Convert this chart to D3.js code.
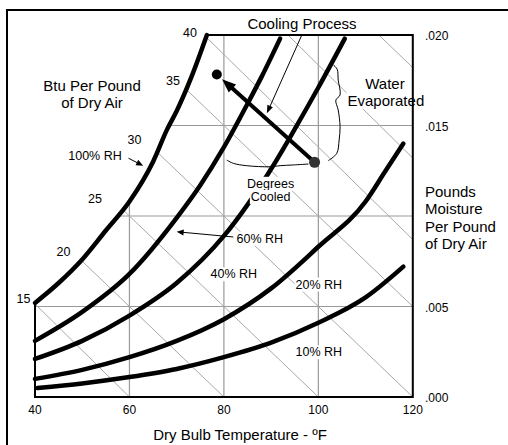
<!DOCTYPE html>
<html><head><meta charset="utf-8">
<script src="https://cdn.jsdelivr.net/npm/d3@7"></script>
<style>
body{margin:0;background:#fff;}
svg text{font-family:"Liberation Sans",Arial,Helvetica,sans-serif;fill:#000;}
</style></head><body>
<svg id="chart" width="508" height="445"></svg>
<script>
// ---------------- data ----------------
const tempTicks = [40, 60, 80, 100, 120];
const tempGrid = [60, 80, 100];
const moistTicks = [0, 0.005, 0.015, 0.020];
const moistTickLabels = [".000", ".005", ".015", ".020"];
const moistGrid = [0.005, 0.010, 0.015];

// relative humidity curves: [dry bulb °F, lb moisture / lb dry air]
const rh100 = [[40,.0052],[45,.0063],[50,.0076],[55,.0092],[60,.0108],[65,.0130],[68,.0148],[70,.0158],[73,.0176],[76.4,.0200]];
const rh60  = [[40,.0031],[50,.0047],[60,.0068],[70,.0099],[75,.0117],[80,.0138],[85,.0162],[88,.0177],[91.9,.0198]];
const rh40  = [[40,.0021],[50,.0031],[60,.0045],[70,.0063],[80,.0089],[90,.0126],[95,.0148],[100,.0171],[105.6,.0198]];
const rh20  = [[40,.0010],[50,.0015],[60,.0022],[70,.0031],[80,.0043],[90,.0060],[100,.0083],[110,.0108],[114,.0124],[118,.0140]];
const rh10  = [[40.5,.0005],[50,.00075],[60,.0011],[70,.00155],[80,.0022],[90,.0030],[100,.0041],[110,.0055],[118,.0072]];
const rhLabels = ["100% RH","60% RH","40% RH","20% RH","10% RH"];

// enthalpy (Btu per pound of dry air) lines: value and two points on each line
const enthalpyValues = [15, 20, 25, 30, 35, 40, 45, 50];
const enthalpyStart = [[39,.0054],[45,.00875],[52,.012],[60,.015],[68,.018],[75,.0202],[92,.0204],[112,.0202]];
const enthalpyEnd   = [[60,0],[80,0],[100,0],[120,0],[120,.005],[120,.0087],[120,.0132],[120,.0182]];
const enthalpyLabeled = ["15","20","25","30","35","40"];

// cooling process: start state and end state
const processStates = [[99.2,.01297],[78.5,.01782]];
const degreesBrace = [[80.6,.01309],[82.0,.01291],[84.8,.01278],[89.8,.01272],[91.9,.01278],[94.7,.01282],[97.9,.01287]];
const waterBrace = [[103.2,.01834],[104.0,.01810],[104.2,.01751],[104.6,.01669],[103.7,.01640],[104.2,.01586],[104.6,.01493],[104.4,.01420],[103.9,.01346],[102.1,.01306]];

// ---------------- drawing ----------------
const svg = d3.select("#chart");
const x = d3.scaleLinear().domain([40,120]).range([35,412.8]);
const y = d3.scaleLinear().domain([0,0.020]).range([397,35]);
const line = d3.line().x(d=>x(d[0])).y(d=>y(d[1])).curve(d3.curveMonotoneX);
const straight = d3.line().x(d=>x(d[0])).y(d=>y(d[1]));

// outer frame
svg.append("rect").attr("x",7).attr("y",10).attr("width",620).attr("height",520)
  .attr("fill","none").attr("stroke","#000").attr("stroke-width",2);

// clip region bounded by saturation curve
const satTop = rh100[rh100.length-1];
const regionPath = line(rh100) + "L" + x(120) + "," + y(0.020) + "L" + x(120) + "," + y(0) + "L" + x(40) + "," + y(0) + "Z";
svg.append("defs").append("clipPath").attr("id","region").append("path").attr("d", regionPath);

const gridG = svg.append("g").attr("clip-path","url(#region)");
gridG.selectAll("line.v").data(tempGrid).join("line")
  .attr("x1",d=>x(d)).attr("x2",d=>x(d)).attr("y1",y(0)).attr("y2",y(0.020))
  .attr("stroke","#999").attr("stroke-width",1.2);
gridG.selectAll("line.h").data(moistGrid).join("line")
  .attr("x1",x(40)).attr("x2",x(120)).attr("y1",d=>y(d)).attr("y2",d=>y(d))
  .attr("stroke","#999").attr("stroke-width",1.2);
gridG.selectAll("line.e").data(enthalpyValues).join("line")
  .attr("x1",(d,i)=>x(enthalpyStart[i][0])).attr("y1",(d,i)=>y(enthalpyStart[i][1]))
  .attr("x2",(d,i)=>x(enthalpyEnd[i][0])).attr("y2",(d,i)=>y(enthalpyEnd[i][1]))
  .attr("stroke","#a8a8a8").attr("stroke-width",1);

// helper for labels with white boxes
function label(g, tx, ty, str, size, anchor, box){
  const t = g.append("text").attr("x",tx).attr("y",ty).attr("dy",".35em")
    .attr("text-anchor",anchor||"middle").attr("font-size",size).text(str);
  if(box){
    const b = t.node().getBBox();
    g.insert("rect","text").attr("x",b.x-1).attr("y",b.y).attr("width",b.width+2).attr("height",b.height)
      .attr("fill","#fff");
  }
  return t;
}

// positions of the "Water Evaporated" annotation
const waterPos = [[114.1,.01729],[114.3,.01638]];

// box behind "Water Evaporated" (hides gridlines only)
const wg = svg.append("g");
label(wg, x(waterPos[0][0]), y(waterPos[0][1]), "Water", 15, "middle", true);
label(wg, x(waterPos[1][0]), y(waterPos[1][1]), "Evaporated", 15, "middle", true);
wg.selectAll("text").remove();

// boundary of the chart
svg.append("path")
  .attr("d", straight([rh100[0],[40,0],[120,0],[120,0.020],satTop]))
  .attr("fill","none").attr("stroke","#000").attr("stroke-width",2).attr("stroke-linejoin","miter");

// RH curves
[rh100, rh60, rh40, rh20, rh10].forEach(c=>{
  svg.append("path").attr("d", line(c)).attr("fill","none").attr("stroke","#000")
    .attr("stroke-width",4.5).attr("stroke-linecap","round");
});

// boxed labels inside the region (white boxes hide lines behind them)
const boxG = svg.append("g");
const boxedLabels = [
  [rhLabels[1], 87.6, .00877], [rhLabels[2], 82.1, .0068], [rhLabels[3], 100.1, .00623], [rhLabels[4], 100.1, .0025],
  ["Degrees", 89.9, .0118], ["Cooled", 89.9, .01107]
];
boxedLabels.forEach(l=>{
  const g = boxG.append("g");
  label(g, x(l[1]), y(l[2]), l[0], 12.5, "middle", true);
});

// arrow helper
function arrow(p0, p1, len, hw, width){
  const x0=x(p0[0]), y0=y(p0[1]), x1=x(p1[0]), y1=y(p1[1]);
  const dx=x1-x0, dy=y1-y0, L=Math.hypot(dx,dy), ux=dx/L, uy=dy/L;
  const bx=x1-ux*len, by=y1-uy*len;
  svg.append("line").attr("x1",x0).attr("y1",y0).attr("x2",bx+ux*1).attr("y2",by+uy*1)
    .attr("stroke","#000").attr("stroke-width",width);
  svg.append("polygon").attr("points",
    [[x1,y1],[bx-uy*hw,by+ux*hw],[bx+uy*hw,by-ux*hw]].map(p=>p.join(",")).join(" "))
    .attr("fill","#000");
}

// braces
const braceLine = d3.line().x(d=>x(d[0])).y(d=>y(d[1])).curve(d3.curveCatmullRom);
svg.append("path").attr("d", braceLine(degreesBrace)).attr("fill","none").attr("stroke","#000").attr("stroke-width",1);
svg.append("path").attr("d", braceLine(waterBrace)).attr("fill","none").attr("stroke","#000").attr("stroke-width",1);

// process line with arrow toward the end state (stopping just short of the end dot)
{
  const s = processStates[0], e = processStates[1];
  const xs=x(s[0]), ys=y(s[1]), xe=x(e[0]), ye=y(e[1]);
  const L=Math.hypot(xe-xs,ye-ys);
  const f=(L-7)/L;
  const tip=[x.invert(xs+(xe-xs)*f), y.invert(ys+(ye-ys)*f)];
  arrow(s, tip, 14, 5.5, 4);
  svg.append("circle").attr("cx",xe).attr("cy",ye).attr("r",5).attr("fill","#000");
  svg.append("circle").attr("cx",xs).attr("cy",ys).attr("r",5.5).attr("fill","#333");
}

// thin annotation arrows
arrow([96.5,.0200],[89.1,.01567], 8, 3, 1);
arrow([59.8,.01319],[62.9,.01278], 7, 3, 1);
arrow([82.0,.00884],[70.0,.00913], 7, 3, 1);

// texts
const tg = svg.append("g");
label(tg, x(waterPos[0][0]), y(waterPos[0][1]), "Water", 15);
label(tg, x(waterPos[1][0]), y(waterPos[1][1]), "Evaporated", 15);
label(tg, 302, 24, "Cooling Process", 15);
label(tg, 92, 86, "Btu Per Pound", 15);
label(tg, 92, 103, "of Dry Air", 15);
label(tg, 95, 156, rhLabels[0], 12.5);
// enthalpy value labels
const enthalpyLabelPos = [[23.5,299],[63.5,252],[95,199],[134.5,140],[173,81],[190,33]];
enthalpyLabeled.forEach((s,i)=>label(tg, enthalpyLabelPos[i][0], enthalpyLabelPos[i][1], s, 12.5));
// x tick labels
tempTicks.forEach(t=>label(tg, x(t), 410, String(t), 12));
// right tick labels
moistTicks.forEach((m,i)=>label(tg, 425, y(m)+1, moistTickLabels[i], 12, "start"));
// axis titles
label(tg, 240, 435, "Dry Bulb Temperature - ºF", 15);
["Pounds","Moisture","Per Pound","of Dry Air"].forEach((s,i)=>label(tg, 425, 192+17.2*i, s, 15, "start"));
</script>
</body></html>
